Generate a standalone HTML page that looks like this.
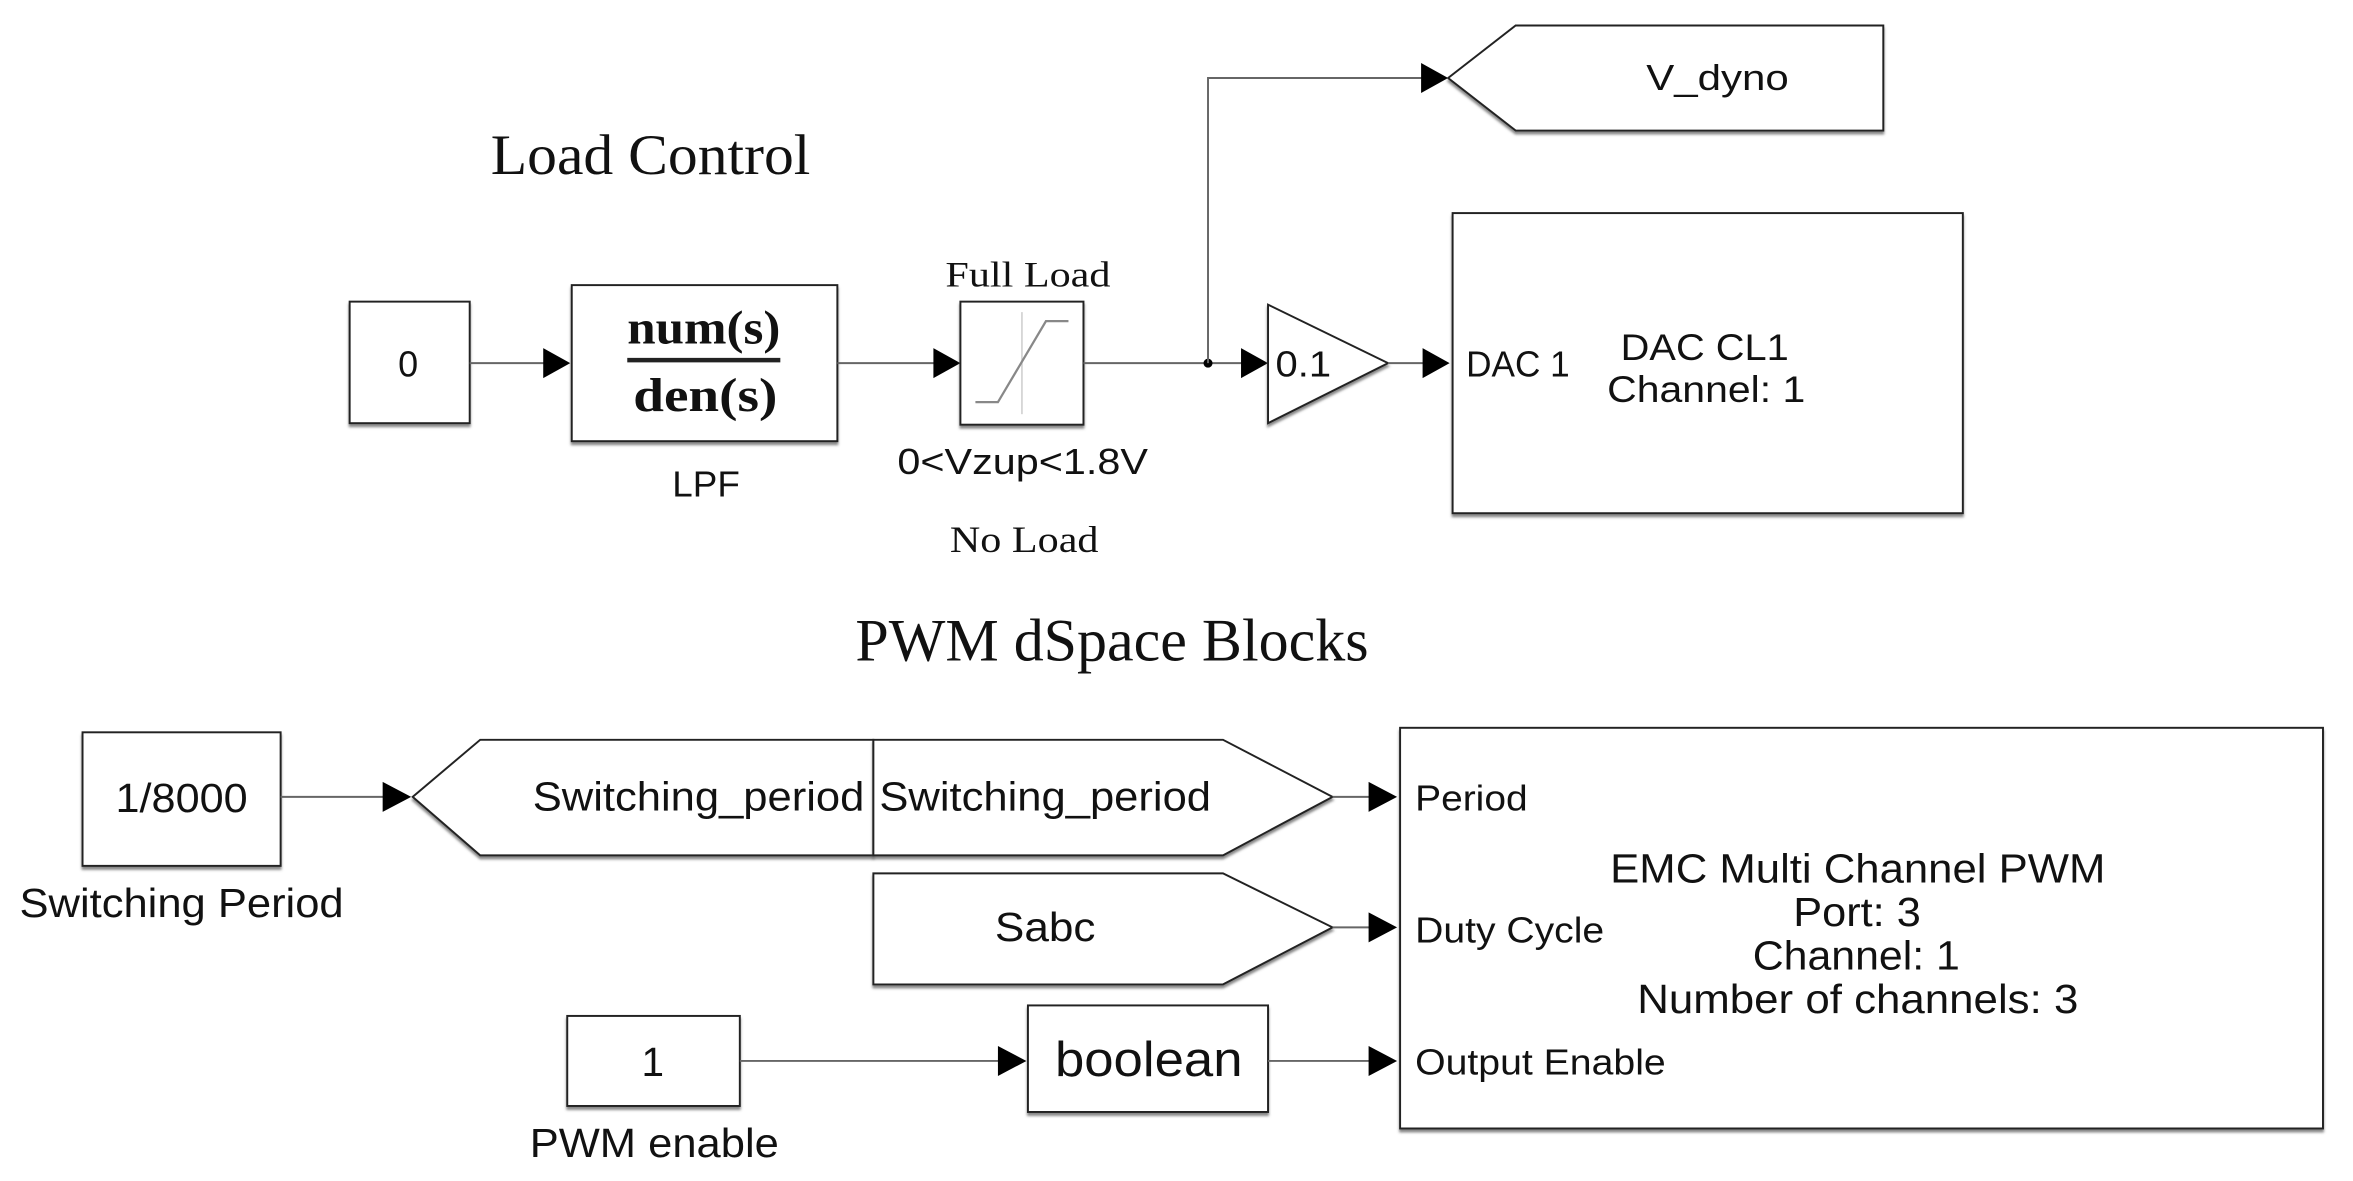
<!DOCTYPE html>
<html><head><meta charset="utf-8"><style>
html,body{margin:0;padding:0;background:#fff;}
svg{display:block;}
.s{font-family:"Liberation Sans",sans-serif;fill:#111;}
.r{font-family:"Liberation Serif",serif;fill:#111;}
.b{fill:#fff;stroke:#222;stroke-width:1.3;}
.l{stroke:#666;stroke-width:1.3;fill:none;}
</style></head><body>
<svg width="2353" height="1181" viewBox="0 0 1568 787" xmlns="http://www.w3.org/2000/svg">
<defs>
<filter id="sh" x="-5%" y="-5%" width="110%" height="115%"><feDropShadow dx="0" dy="2" stdDeviation="0.8" flood-color="#555" flood-opacity="0.7"/></filter>
</defs>
<rect width="1568" height="787" fill="#fff"/>
<text class="r" x="327" y="116" font-size="38" textLength="213" lengthAdjust="spacingAndGlyphs">Load Control</text>
<!-- const 0 -->
<rect class="b" x="233" y="201" width="80" height="81" filter="url(#sh)"/>
<text class="s" x="272" y="251" font-size="24" text-anchor="middle">0</text>
<line class="l" x1="313" y1="242" x2="365" y2="242"/>
<polygon points="362,232 380,242 362,252" fill="#000"/>
<!-- LPF -->
<rect class="b" x="381" y="190" width="177" height="104" filter="url(#sh)"/>
<text class="r" x="418" y="229" font-size="32" font-weight="bold" textLength="102" lengthAdjust="spacingAndGlyphs">num(s)</text>
<line x1="418" y1="240" x2="520" y2="240" stroke="#222" stroke-width="3"/>
<text class="r" x="422" y="274" font-size="32" font-weight="bold" textLength="96" lengthAdjust="spacingAndGlyphs">den(s)</text>
<text class="s" x="448" y="331" font-size="24" textLength="45" lengthAdjust="spacingAndGlyphs">LPF</text>
<line class="l" x1="558" y1="242" x2="625" y2="242"/>
<polygon points="622,232 640,242 622,252" fill="#000"/>
<!-- saturation -->
<rect class="b" x="640" y="201" width="82" height="82" filter="url(#sh)"/>
<line x1="681" y1="208" x2="681" y2="276" stroke="#ccc" stroke-width="1"/>
<polyline points="650,268 665,268 697,214 712,214" fill="none" stroke="#888" stroke-width="1.5"/>
<text class="r" x="630" y="191" font-size="24" textLength="110" lengthAdjust="spacingAndGlyphs">Full Load</text>
<text class="s" x="598" y="316" font-size="24" textLength="167" lengthAdjust="spacingAndGlyphs">0&lt;Vzup&lt;1.8V</text>
<text class="r" x="633" y="368" font-size="25" textLength="99" lengthAdjust="spacingAndGlyphs">No Load</text>
<line class="l" x1="722" y1="242" x2="830" y2="242"/>
<circle cx="805" cy="242" r="3" fill="#000"/>
<polyline class="l" points="805,242 805,52 950,52"/>
<polygon points="947,42 965,52 947,62" fill="#000"/>
<polygon points="827,232 845,242 827,252" fill="#000"/>
<!-- goto V_dyno -->
<polygon class="b" points="965,52 1010,17 1255,17 1255,87 1010,87" filter="url(#sh)"/>
<text class="s" x="1097" y="60" font-size="24" textLength="95" lengthAdjust="spacingAndGlyphs">V_dyno</text>
<!-- gain -->
<polygon class="b" points="845,203 845,282 925,242" filter="url(#sh)"/>
<text class="s" x="850" y="251" font-size="24" textLength="37" lengthAdjust="spacingAndGlyphs">0.1</text>
<line class="l" x1="925" y1="242" x2="950" y2="242"/>
<polygon points="948,232 966,242 948,252" fill="#000"/>
<!-- DAC -->
<rect class="b" x="968" y="142" width="340" height="200" filter="url(#sh)"/>
<text class="s" x="977" y="251" font-size="24" textLength="69" lengthAdjust="spacingAndGlyphs">DAC 1</text>
<text class="s" x="1080" y="240" font-size="25" textLength="112" lengthAdjust="spacingAndGlyphs">DAC CL1</text>
<text class="s" x="1071" y="268" font-size="25" textLength="132" lengthAdjust="spacingAndGlyphs">Channel: 1</text>

<text class="r" x="570" y="440" font-size="40" textLength="342" lengthAdjust="spacingAndGlyphs">PWM dSpace Blocks</text>
<!-- 1/8000 -->
<rect class="b" x="55" y="488" width="132" height="89" filter="url(#sh)"/>
<text class="s" x="77" y="541" font-size="27" textLength="88" lengthAdjust="spacingAndGlyphs">1/8000</text>
<text class="s" x="13" y="611" font-size="27" textLength="216" lengthAdjust="spacingAndGlyphs">Switching Period</text>
<line class="l" x1="187" y1="531" x2="258" y2="531"/>
<polygon points="255,521 274,531 255,541" fill="#000"/>
<polygon class="b" points="275,531 320,493 582,493 582,570 320,570" filter="url(#sh)"/>
<polygon class="b" points="582,493 815,493 888,531 815,570 582,570" filter="url(#sh)"/>
<text class="s" x="355" y="540" font-size="27" textLength="221" lengthAdjust="spacingAndGlyphs">Switching_period</text>
<text class="s" x="586" y="540" font-size="27" textLength="221" lengthAdjust="spacingAndGlyphs">Switching_period</text>
<line class="l" x1="888" y1="531" x2="915" y2="531"/>
<polygon points="912,521 931,531 912,541" fill="#000"/>
<!-- Sabc -->
<polygon class="b" points="582,582 815,582 888,618 815,656 582,656" filter="url(#sh)"/>
<text class="s" x="663" y="627" font-size="27" textLength="67" lengthAdjust="spacingAndGlyphs">Sabc</text>
<line class="l" x1="888" y1="618" x2="915" y2="618"/>
<polygon points="912,608 931,618 912,628" fill="#000"/>
<!-- const 1 -->
<rect class="b" x="378" y="677" width="115" height="60" filter="url(#sh)"/>
<text class="s" x="435" y="717" font-size="27" text-anchor="middle">1</text>
<text class="s" x="353" y="771" font-size="27" textLength="166" lengthAdjust="spacingAndGlyphs">PWM enable</text>
<line class="l" x1="493" y1="707" x2="668" y2="707"/>
<polygon points="665,697 684,707 665,717" fill="#000"/>
<rect class="b" x="685" y="670" width="160" height="71" filter="url(#sh)"/>
<text class="s" x="703" y="717" font-size="33" textLength="125" lengthAdjust="spacingAndGlyphs">boolean</text>
<line class="l" x1="845" y1="707" x2="915" y2="707"/>
<polygon points="912,697 931,707 912,717" fill="#000"/>
<!-- EMC -->
<rect class="b" x="933" y="485" width="615" height="267" filter="url(#sh)"/>
<text class="s" x="943" y="540" font-size="24" textLength="75" lengthAdjust="spacingAndGlyphs">Period</text>
<text class="s" x="943" y="628" font-size="24" textLength="126" lengthAdjust="spacingAndGlyphs">Duty Cycle</text>
<text class="s" x="943" y="716" font-size="24" textLength="167" lengthAdjust="spacingAndGlyphs">Output Enable</text>
<text class="s" x="1073" y="588" font-size="27" textLength="330" lengthAdjust="spacingAndGlyphs">EMC Multi Channel PWM</text>
<text class="s" x="1195" y="617" font-size="27" textLength="85" lengthAdjust="spacingAndGlyphs">Port: 3</text>
<text class="s" x="1168" y="646" font-size="27" textLength="138" lengthAdjust="spacingAndGlyphs">Channel: 1</text>
<text class="s" x="1091" y="675" font-size="27" textLength="294" lengthAdjust="spacingAndGlyphs">Number of channels: 3</text>
</svg>
</body></html>
